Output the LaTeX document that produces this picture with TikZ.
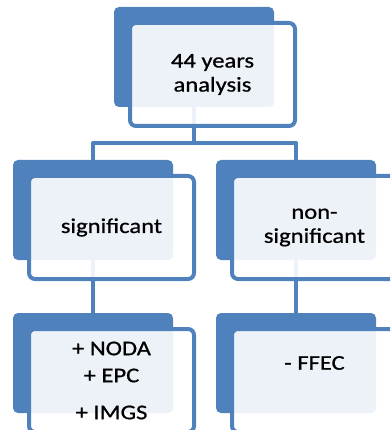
\documentclass[tikz,border=0pt]{standalone}
\usepackage{fontspec}
\setmainfont{Carlito}[FakeStretch=1.17, FakeBold=0.8]
\definecolor{smblue}{RGB}{79,129,189}
\begin{document}
\begin{tikzpicture}[x=1pt, y=-1pt, font=\fontsize{21}{24}\selectfont, line join=round,
	backbox/.style={fill=smblue, rounded corners=5pt, minimum width=160pt, minimum height=100pt, inner sep=0pt},
	frontbox/.style={draw=smblue, line width=4pt, fill=white, fill opacity=0.9, text opacity=1, rounded corners=6pt, minimum width=165pt, minimum height=103pt, inner sep=0pt, align=center},
	link/.style={draw=smblue, line width=4pt}]
		\useasboundingbox (0,0) rectangle (390,430);
		\clip (0,0) rectangle (390,430);
		\path
		(194,57) coordinate (top)
		(93,210) coordinate (sig)
		(296,210) coordinate (non)
		(93,363) coordinate (plus)
		(296,363) coordinate (minus);
		\foreach \p in {top, sig, non, plus, minus}
		\node[backbox] (\p B) at (\p) {};
		\draw[link] (topB.south) -- ++(0,36) -| (sigB.north)
		(topB.south) -- ++(0,36) -| (nonB.north)
		(sigB.south) -- (plusB.north)
		(nonB.south) -- (minusB.north);
		\node[frontbox] (topF) at ([shift={(18.5,17.5)}]top) {44 years\\analysis};
		\node[frontbox] (sigF) at ([shift={(18.5,17.5)}]sig) {significant};
		\node[frontbox] (nonF) at ([shift={(18.5,17.5)}]non) {non-\\significant};
		\node[frontbox] (plusF) at ([shift={(18.5,17.5)}]plus) {+ NODA\\[3pt]+ EPC\\[13pt]+ IMGS};
		\node[frontbox] (minusF) at ([shift={(18.5,17.5)}]minus) {};
		\node (ffec) at ([yshift=17.5pt]minusF.center) {- FFEC};
	\end{tikzpicture}
\end{document}
